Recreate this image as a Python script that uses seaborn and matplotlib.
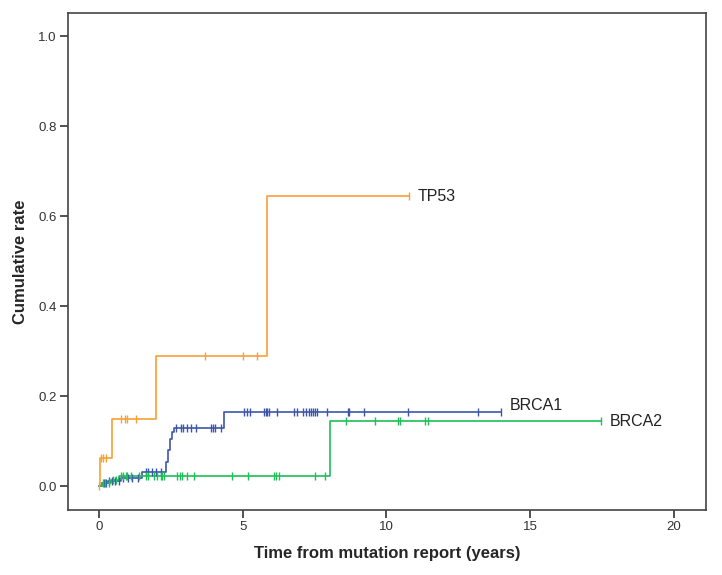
import numpy as np
import pandas as pd
import matplotlib
matplotlib.use("Agg")
import matplotlib.pyplot as plt
import seaborn as sns

# ---- data ----
groups = ["TP53", "BRCA1", "BRCA2"]

tp53_times = [0.0, 0.03, 0.44, 1.98, 5.86, 10.8]
tp53_rates = [0.0, 0.062, 0.148, 0.290, 0.644, 0.644]
tp53_censor = [0.0, 0.07, 0.15, 0.24, 0.76, 0.90, 0.96, 1.28, 3.7, 5.0, 5.5, 10.8]

brca1_times = [0.0, 0.1, 0.3, 0.76, 1.51, 2.32, 2.39, 2.47, 2.53, 2.60, 4.34, 14.0]
brca1_rates = [0.0, 0.006, 0.012, 0.018, 0.032, 0.054, 0.080, 0.104, 0.120, 0.130, 0.164, 0.164]
brca1_censor = [0.17, 0.25, 0.35, 0.45, 0.55, 0.70, 0.85, 1.0, 1.15, 1.35, 1.63, 1.71,
                1.83, 1.98, 2.15, 2.67, 2.84, 2.93, 3.05, 3.19, 3.36, 3.90, 3.97, 4.02,
                4.23, 5.06, 5.15, 5.24, 5.75, 5.80, 5.85, 5.90, 6.19, 6.77, 6.88, 7.11,
                7.21, 7.29, 7.37, 7.44, 7.52, 7.58, 7.93, 8.68, 8.71, 9.22, 10.76, 13.2, 14.0]

brca2_times = [0.0, 0.1, 0.42, 0.70, 8.02, 17.47]
brca2_rates = [0.0, 0.007, 0.014, 0.022, 0.145, 0.145]
brca2_censor = [0.15, 0.20, 0.35, 0.50, 0.60, 0.76, 0.82, 0.94, 0.99, 1.11, 1.40, 1.63,
                1.71, 1.90, 2.03, 2.15, 2.20, 2.26, 2.73, 2.81, 2.90, 3.07, 3.30, 4.63,
                5.17, 6.08, 6.17, 6.25, 7.50, 7.87, 8.60, 9.60, 10.41, 10.47, 11.33,
                11.45, 17.47]

x_ticks = [0, 5, 10, 15, 20]
y_ticks = [0.0, 0.2, 0.4, 0.6, 0.8, 1.0]
x_label = "Time from mutation report (years)"
y_label = "Cumulative rate"

colors = {"TP53": "#F7A034", "BRCA1": "#3D56AC", "BRCA2": "#1EBE58"}
label_dy = {"TP53": 0.0, "BRCA1": 0.014, "BRCA2": -0.001}

series = {
    "TP53": (tp53_times, tp53_rates, tp53_censor),
    "BRCA1": (brca1_times, brca1_rates, brca1_censor),
    "BRCA2": (brca2_times, brca2_rates, brca2_censor),
}

# ---- plot ----
sns.set_style("white")
plt.rcParams["font.family"] = ["Liberation Sans", "DejaVu Sans"]

fig = plt.figure(figsize=(7.22, 5.75), dpi=100)
ax = fig.add_axes([0.0938, 0.113, 0.884, 0.864])

for g in groups:
    t, r, c = series[g]
    df = pd.DataFrame({"t": t, "r": r})
    sns.lineplot(data=df, x="t", y="r", ax=ax, color=colors[g], lw=1.2,
                 drawstyle="steps-post", estimator=None, sort=False)
    idx = np.searchsorted(np.array(t), np.array(c), side="right") - 1
    cdf = pd.DataFrame({"t": c, "r": np.array(r)[idx]})
    sns.scatterplot(data=cdf, x="t", y="r", ax=ax, color=colors[g], marker="|",
                    s=40, linewidth=1.0, zorder=3)
    ax.text(t[-1] + 0.3, r[-1] + label_dy[g], g, fontsize=11.5, color="#222222",
            va="center", ha="left")

ax.set_xlim(-1.09, 21.12)
ax.set_ylim(-0.0533, 1.051)
ax.set_xticks(x_ticks)
ax.set_xticklabels([str(v) for v in x_ticks])
ax.set_yticks(y_ticks)
ax.set_yticklabels([f"{v:.1f}" for v in y_ticks])
ax.tick_params(axis="both", which="both", direction="out", length=5.5, width=1.2,
               color="#333333", labelsize=9.5, labelcolor="#333333", pad=2.5,
               bottom=True, left=True)
for s in ax.spines.values():
    s.set_color("#444444")
    s.set_linewidth(1.2)
ax.set_xlabel(x_label, fontsize=12, fontweight="bold", labelpad=9)
ax.set_ylabel(y_label, fontsize=12, fontweight="bold", labelpad=7)

fig.savefig("out.png", dpi=100)
